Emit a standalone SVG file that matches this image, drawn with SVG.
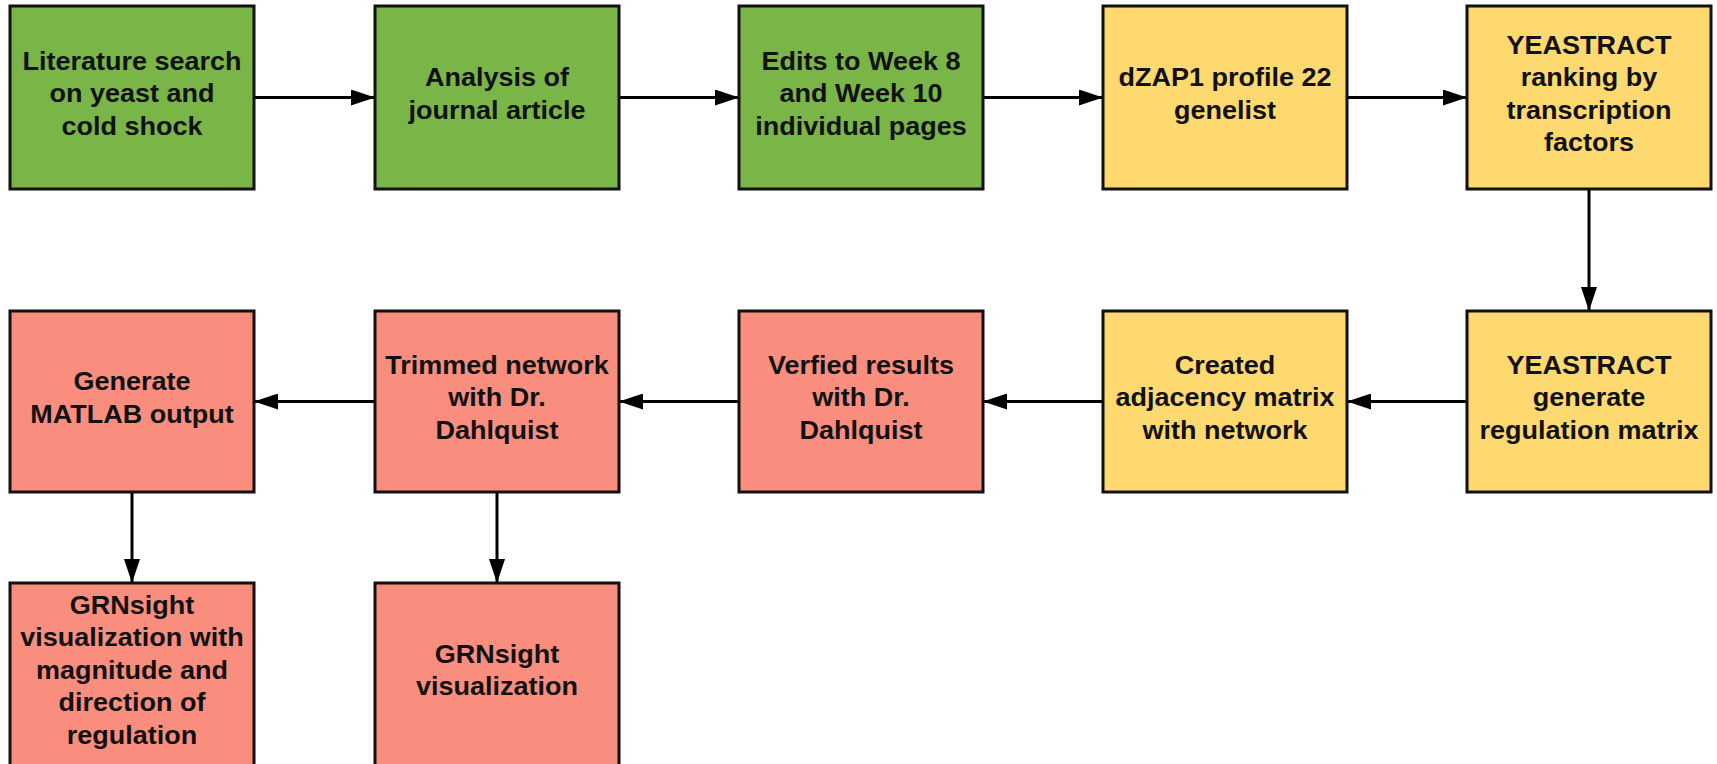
<svg xmlns="http://www.w3.org/2000/svg" width="1717" height="764" viewBox="0 0 1717 764">
<style>
.box{stroke:#111;stroke-width:3}
.g{fill:#79b547}
.y{fill:#fdd96f}
.r{fill:#f98d7e}
.t{font-family:"Liberation Sans",Arial,sans-serif;font-weight:bold;font-size:25px;fill:#111;text-anchor:middle}
.c{stroke:#000;stroke-width:3;fill:none;marker-end:url(#ah)}
</style>
<defs>
<marker id="ah" markerUnits="userSpaceOnUse" markerWidth="24" markerHeight="16" refX="24" refY="8" orient="auto">
<path d="M0,0 L24,8 L0,16 z" fill="#000"/>
</marker>
</defs>
<rect width="1717" height="764" fill="#fff"/>
<g id="connectors">
<line class="c" x1="254" y1="97.5" x2="375" y2="97.5"/>
<line class="c" x1="619" y1="97.5" x2="739" y2="97.5"/>
<line class="c" x1="983" y1="97.5" x2="1103" y2="97.5"/>
<line class="c" x1="1347" y1="97.5" x2="1467" y2="97.5"/>
<line class="c" x1="1589" y1="189" x2="1589" y2="311"/>
<line class="c" x1="1467" y1="401.5" x2="1347" y2="401.5"/>
<line class="c" x1="1103" y1="401.5" x2="983" y2="401.5"/>
<line class="c" x1="739" y1="401.5" x2="619" y2="401.5"/>
<line class="c" x1="375" y1="401.5" x2="254" y2="401.5"/>
<line class="c" x1="132" y1="492" x2="132" y2="583"/>
<line class="c" x1="497" y1="492" x2="497" y2="583"/>
</g>
<g id="n1">
<rect class="box g" x="10" y="6" width="244" height="183"/>
<text class="t" transform="translate(132,0) scale(1.08,1)"><tspan x="0" y="70">Literature search</tspan><tspan x="0" y="102.5">on yeast and</tspan><tspan x="0" y="135">cold shock</tspan></text>
</g>
<g id="n2">
<rect class="box g" x="375" y="6" width="244" height="183"/>
<text class="t" transform="translate(497,0) scale(1.08,1)"><tspan x="0" y="86.5">Analysis of</tspan><tspan x="0" y="119">journal article</tspan></text>
</g>
<g id="n3">
<rect class="box g" x="739" y="6" width="244" height="183"/>
<text class="t" transform="translate(861,0) scale(1.08,1)"><tspan x="0" y="70">Edits to Week 8</tspan><tspan x="0" y="102.5">and Week 10</tspan><tspan x="0" y="135">individual pages</tspan></text>
</g>
<g id="n4">
<rect class="box y" x="1103" y="6" width="244" height="183"/>
<text class="t" transform="translate(1225,0) scale(1.08,1)"><tspan x="0" y="86.5">dZAP1 profile 22</tspan><tspan x="0" y="119">genelist</tspan></text>
</g>
<g id="n5">
<rect class="box y" x="1467" y="6" width="244" height="183"/>
<text class="t" transform="translate(1589,0) scale(1.08,1)"><tspan x="0" y="54">YEASTRACT</tspan><tspan x="0" y="86.5">ranking by</tspan><tspan x="0" y="119">transcription</tspan><tspan x="0" y="151.5">factors</tspan></text>
</g>
<g id="n6">
<rect class="box y" x="1467" y="311" width="244" height="181"/>
<text class="t" transform="translate(1589,0) scale(1.08,1)"><tspan x="0" y="374">YEASTRACT</tspan><tspan x="0" y="406.5">generate</tspan><tspan x="0" y="439">regulation matrix</tspan></text>
</g>
<g id="n7">
<rect class="box y" x="1103" y="311" width="244" height="181"/>
<text class="t" transform="translate(1225,0) scale(1.08,1)"><tspan x="0" y="374">Created</tspan><tspan x="0" y="406.5">adjacency matrix</tspan><tspan x="0" y="439">with network</tspan></text>
</g>
<g id="n8">
<rect class="box r" x="739" y="311" width="244" height="181"/>
<text class="t" transform="translate(861,0) scale(1.08,1)"><tspan x="0" y="374">Verfied results</tspan><tspan x="0" y="406.5">with Dr.</tspan><tspan x="0" y="439">Dahlquist</tspan></text>
</g>
<g id="n9">
<rect class="box r" x="375" y="311" width="244" height="181"/>
<text class="t" transform="translate(497,0) scale(1.08,1)"><tspan x="0" y="374">Trimmed network</tspan><tspan x="0" y="406.5">with Dr.</tspan><tspan x="0" y="439">Dahlquist</tspan></text>
</g>
<g id="n10">
<rect class="box r" x="10" y="311" width="244" height="181"/>
<text class="t" transform="translate(132,0) scale(1.08,1)"><tspan x="0" y="390.5">Generate</tspan><tspan x="0" y="423">MATLAB output</tspan></text>
</g>
<g id="n11">
<rect class="box r" x="10" y="583" width="244" height="183"/>
<text class="t" transform="translate(132,0) scale(1.08,1)"><tspan x="0" y="614">GRNsight</tspan><tspan x="0" y="646.5">visualization with</tspan><tspan x="0" y="679">magnitude and</tspan><tspan x="0" y="711.5">direction of</tspan><tspan x="0" y="744">regulation</tspan></text>
</g>
<g id="n12">
<rect class="box r" x="375" y="583" width="244" height="183"/>
<text class="t" transform="translate(497,0) scale(1.08,1)"><tspan x="0" y="663">GRNsight</tspan><tspan x="0" y="695.5">visualization</tspan></text>
</g>
</svg>
